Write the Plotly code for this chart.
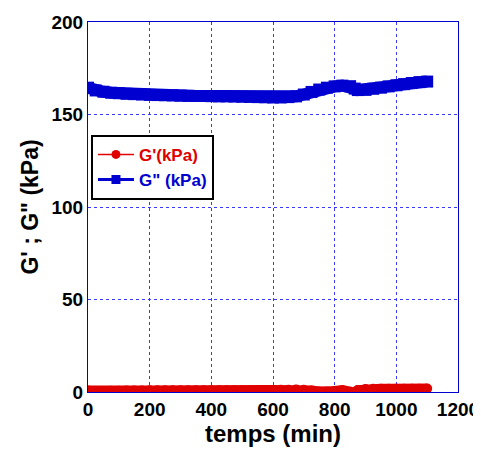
import plotly.graph_objects as go

time_min = [0, 25, 50, 75, 100, 125, 150, 175, 200, 225, 250, 275, 300, 325, 350, 375,
            400, 425, 450, 475, 500, 525, 550, 575, 600, 625, 650, 675, 700, 725, 750,
            775, 800, 825, 850, 865, 875, 900, 925, 950, 975, 1000, 1025, 1050, 1075, 1100]
g2_kpa = [164.5, 163, 162.3, 161.8, 161.5, 161.2, 161, 160.8, 160.6, 160.5, 160.4, 160.3,
          160.2, 160.1, 160, 160, 159.9, 159.8, 159.8, 159.7, 159.6, 159.5, 159.4, 159.3,
          159.2, 159.2, 159.4, 159.8, 160.8, 162.2, 163.5, 164.5, 165.2, 165.6, 165.3,
          164, 163.2, 163.3, 163.9, 164.5, 165.2, 165.8, 166.4, 167, 167.5, 167.8]
g1_kpa = [0.8, 0.6, 0.6, 0.7, 0.7, 0.8, 0.8, 0.8, 0.9, 0.9, 0.9, 0.9, 0.9, 1.0, 1.0, 1.0,
          1.0, 1.0, 1.0, 1.0, 1.0, 1.0, 1.0, 1.1, 1.1, 1.2, 1.2, 1.4, 1.2, 0.8, 0.3,
          -0.2, 0.6, 1.0, 0.2, -0.3, 1.0, 1.6, 1.8, 1.8, 1.8, 1.8, 1.8, 1.8, 1.8, 1.9]

x_ticks = [0, 200, 400, 600, 800, 1000, 1200]
y_ticks = [0, 50, 100, 150, 200]

RED = "#e00000"
BLUE = "#0000d0"
GRID = "#3a3aff"

fig = go.Figure()
fig.add_trace(go.Scatter(x=time_min, y=g1_kpa, mode="lines+markers", showlegend=False,
                         line=dict(color=RED, width=10), marker=dict(symbol="circle", size=10, color=RED)))
fig.add_trace(go.Scatter(x=time_min, y=g2_kpa, mode="lines+markers", showlegend=False,
                         line=dict(color=BLUE, width=12), marker=dict(symbol="square", size=12, color=BLUE)))
# legend entries
fig.add_trace(go.Scatter(x=[None], y=[None], mode="lines+markers",
                         name="<span style='color:%s'>G'(kPa)</span>" % RED,
                         line=dict(color=RED, width=1.5), marker=dict(symbol="circle", size=9, color=RED)))
fig.add_trace(go.Scatter(x=[None], y=[None], mode="lines+markers",
                         name="<span style='color:%s'>G\" (kPa)</span>" % BLUE,
                         line=dict(color=BLUE, width=3), marker=dict(symbol="square", size=9, color=BLUE)))

axis_common = dict(showgrid=True, gridcolor=GRID, griddash="dot", gridwidth=1,
                   showline=True, linecolor=BLUE, linewidth=1, mirror=True, zeroline=False,
                   tickfont=dict(family="Liberation Sans, Arial", size=19, color="black", weight="bold"),
                   ticks="", automargin=False)

# page body has an 8px margin, so the figure is sized/offset to compensate
fig.update_layout(
    width=473, height=448,
    margin=dict(l=80, r=23, t=14, b=64),
    paper_bgcolor="white", plot_bgcolor="white",
    font=dict(family="Liberation Sans, Arial", color="black"),
    xaxis=dict(range=[0, 1200], tickvals=x_ticks,
               title=dict(text="<b>temps (min)</b>", font=dict(size=24), standoff=2), **axis_common),
    yaxis=dict(range=[0, 200], tickvals=y_ticks,
               title=dict(text="<b>G' ; G\" (kPa)</b>", font=dict(size=23), standoff=6), **axis_common),
    legend=dict(x=0.008, y=0.695, xanchor="left", yanchor="top",
                bordercolor="black", borderwidth=2, bgcolor="white",
                font=dict(size=17, weight="bold"), itemwidth=36, tracegroupgap=0),
)

fig.write_html("out.html")
